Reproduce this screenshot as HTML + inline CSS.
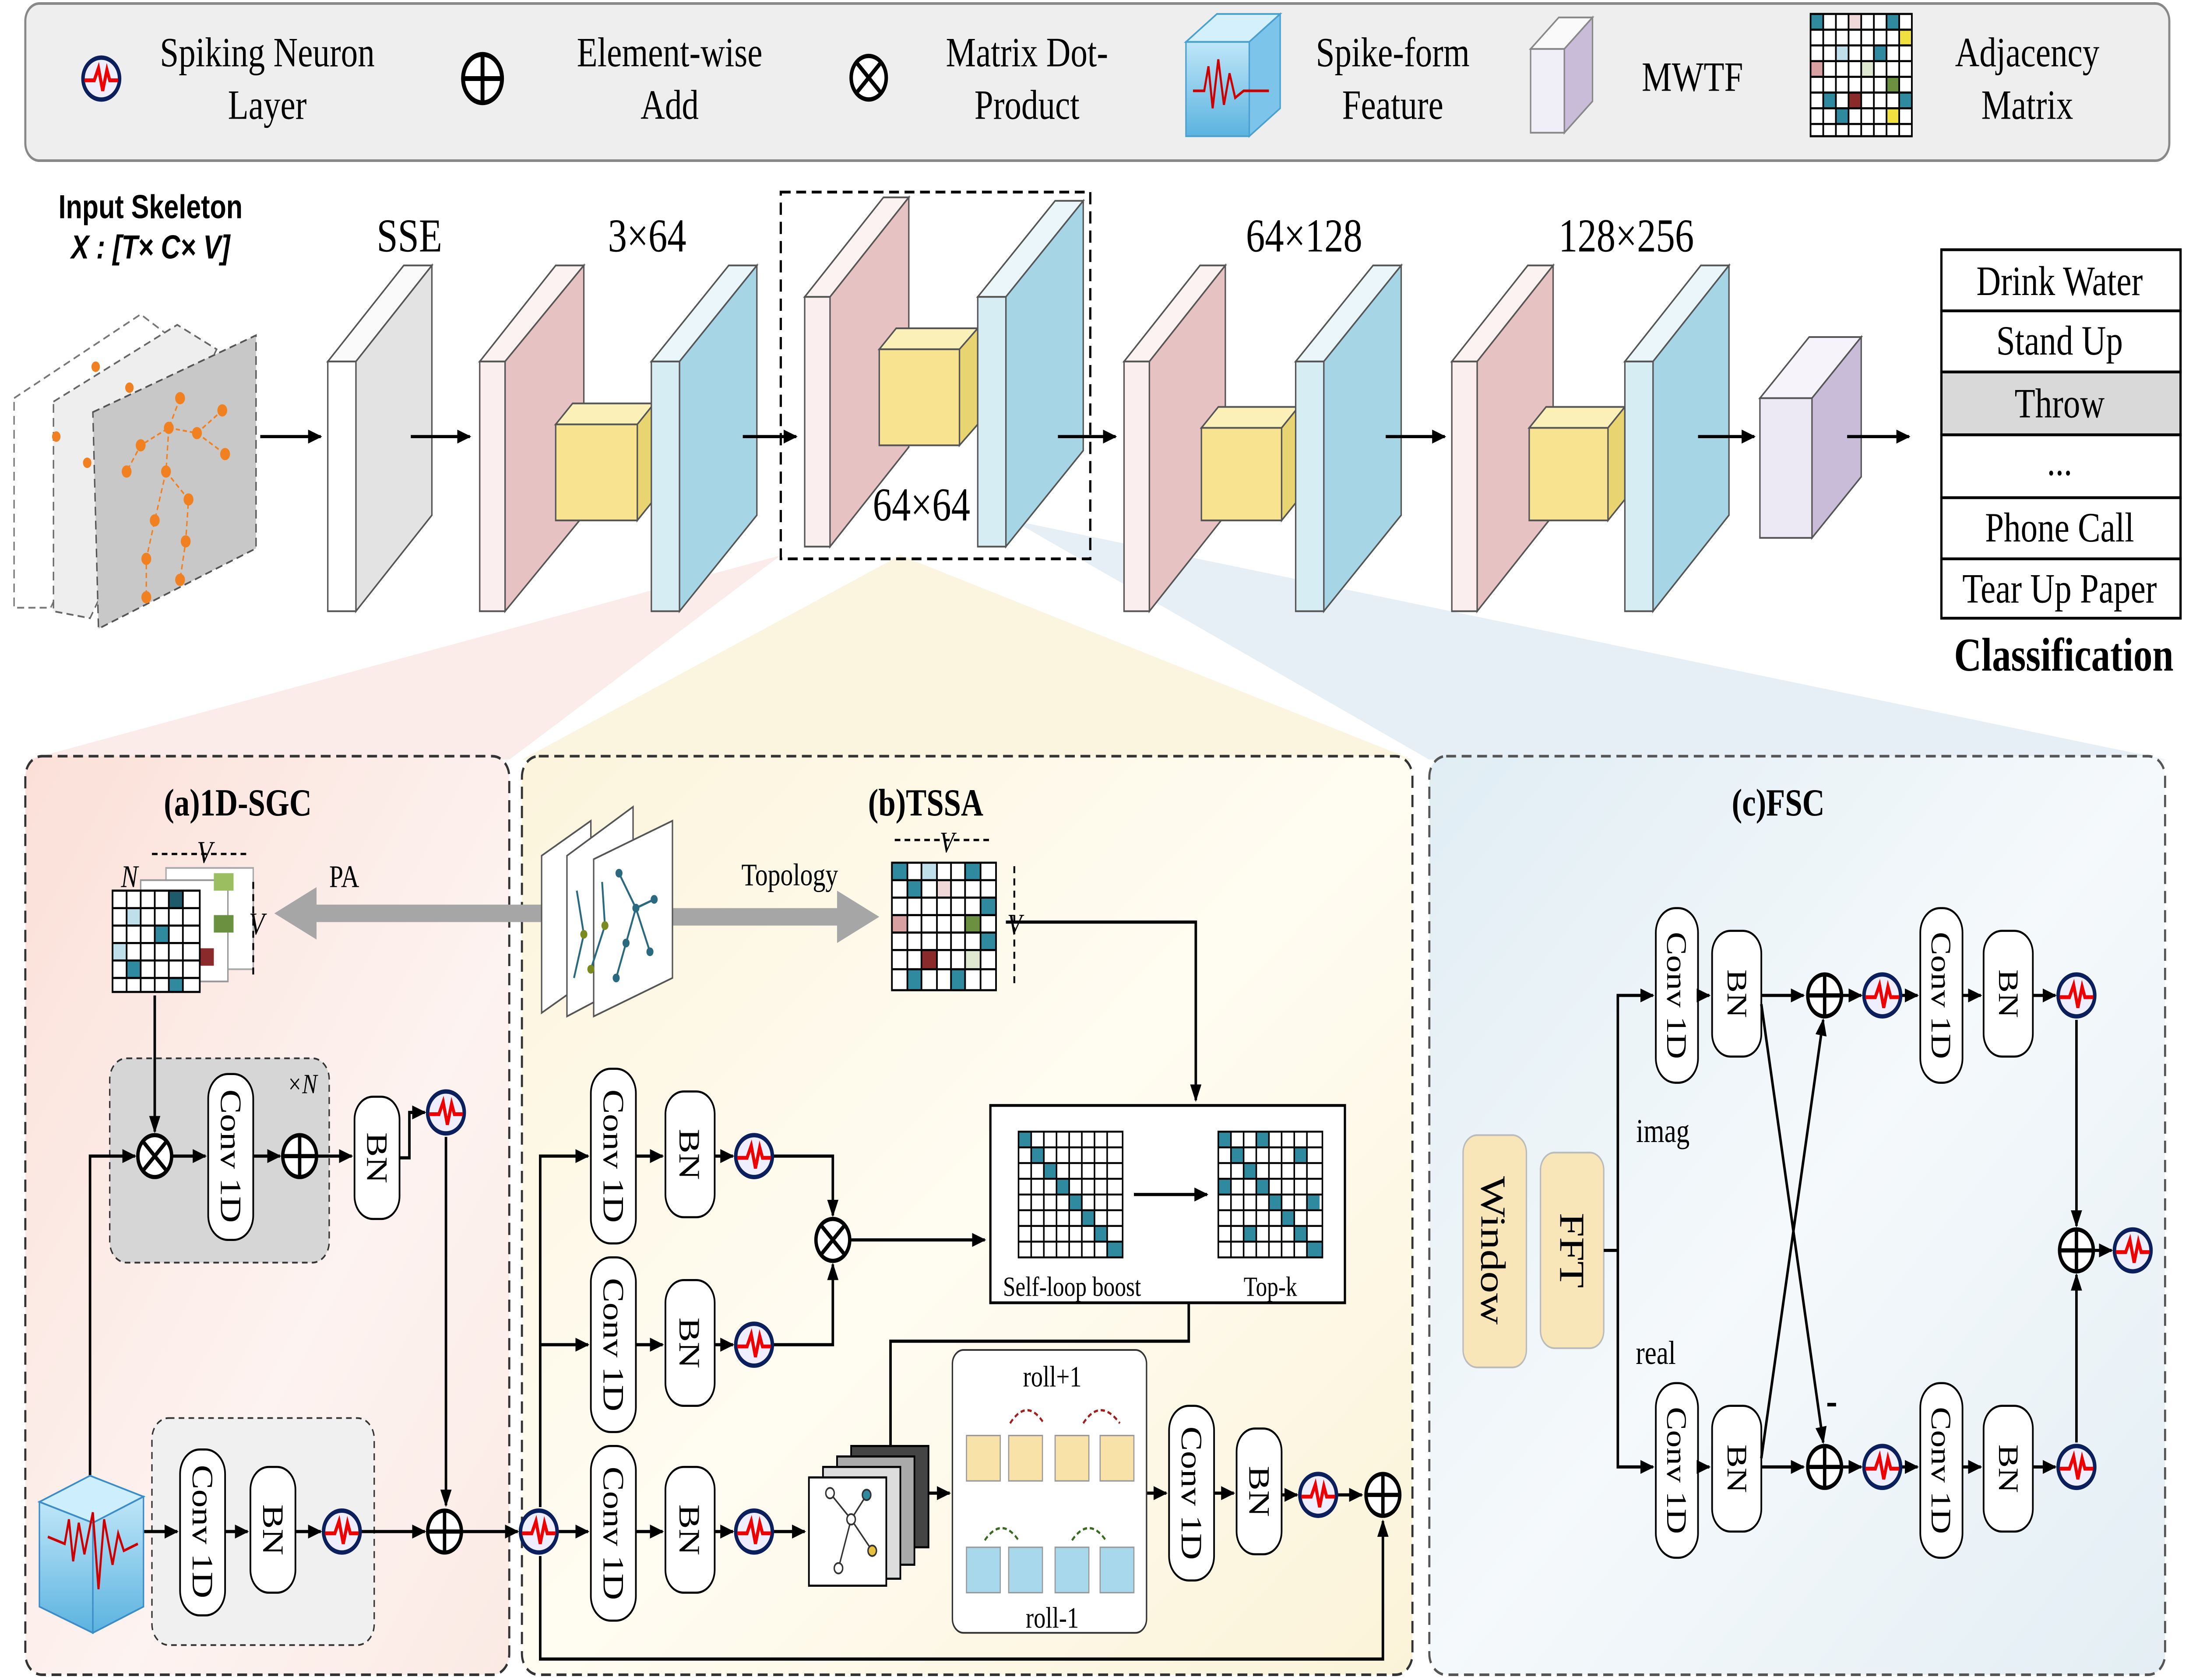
<!DOCTYPE html>
<html><head><meta charset="utf-8"><style>html,body{margin:0;padding:0;background:#fff;overflow:hidden;width:100%;height:100%}svg{display:block;position:fixed;left:0;top:0;width:100vw;height:100vh}</style></head><body>
<svg xmlns="http://www.w3.org/2000/svg" viewBox="0 0 1556 962" preserveAspectRatio="none" font-family="Liberation Serif, serif">
<defs>
<marker id="ar" markerWidth="10" markerHeight="8" refX="9" refY="4" orient="auto" markerUnits="userSpaceOnUse"><path d="M0,0 L10,4 L0,8 z" fill="#000"/></marker>
<symbol id="neu" viewBox="-14 -14 28 28" overflow="visible"><ellipse cx="0" cy="0" rx="13" ry="12" fill="#eef" stroke="#0b1f5c" stroke-width="2.5"/><path d="M-12,1 L-5,1 L-2,-6 L1,7 L4,-5 L6,1 L12,1" fill="none" stroke="#e00" stroke-width="2.2"/></symbol>
<symbol id="plus" viewBox="-13 -13 26 26" overflow="visible"><circle r="12" fill="#fff" stroke="#000" stroke-width="2.4"/><path d="M-12,0H12M0,-12V12" stroke="#000" stroke-width="2.4"/></symbol>
<symbol id="times" viewBox="-13 -13 26 26" overflow="visible"><circle r="12" fill="#fff" stroke="#000" stroke-width="2.4"/><path d="M-8.5,-8.5L8.5,8.5M8.5,-8.5L-8.5,8.5" stroke="#000" stroke-width="2.4"/></symbol>
<linearGradient id="ga" x1="0" y1="0" x2="1" y2="1"><stop offset="0" stop-color="#fbe0d8"/><stop offset="0.6" stop-color="#fdf3f0"/><stop offset="1" stop-color="#fbeae4"/></linearGradient>
<linearGradient id="gb" x1="0" y1="0" x2="1" y2="1"><stop offset="0" stop-color="#fcf4dc"/><stop offset="0.5" stop-color="#fffcf2"/><stop offset="1" stop-color="#fbf3d8"/></linearGradient>
<linearGradient id="gc" x1="0" y1="0" x2="1" y2="1"><stop offset="0" stop-color="#e0edf4"/><stop offset="0.5" stop-color="#f5f9fb"/><stop offset="1" stop-color="#e3eef4"/></linearGradient>
<linearGradient id="cube" x1="0" y1="0" x2="0" y2="1"><stop offset="0" stop-color="#bfe6f8"/><stop offset="1" stop-color="#5bb3e0"/></linearGradient>
</defs>

<rect x="18" y="2" width="1524" height="90" rx="10" fill="#eeeeee" stroke="#888" stroke-width="1.5"/>
<use href="#neu" x="58" y="31" width="28" height="28"/>
<g font-size="24" text-anchor="middle">
<text x="190" y="38">Spiking Neuron</text><text x="190" y="68">Layer</text>
<text x="476" y="38">Element-wise</text><text x="476" y="68">Add</text>
<text x="730" y="38">Matrix Dot-</text><text x="730" y="68">Product</text>
<text x="990" y="38">Spike-form</text><text x="990" y="68">Feature</text>
<text x="1203" y="52">MWTF</text>
<text x="1441" y="38">Adjacency</text><text x="1441" y="68">Matrix</text>
</g>
<use href="#plus" x="328" y="30" width="30" height="30"/>
<use href="#times" x="604" y="31" width="27" height="27"/>
<g><polygon points="843,24 865,8 910,8 888,24" fill="#d4f0fc" stroke="#4aa0d0"/><polygon points="888,24 910,8 910,62 888,78" fill="#7cc4ea" stroke="#4aa0d0"/><rect x="843" y="24" width="45" height="54" fill="url(#cube)" stroke="#4aa0d0"/><path d="M848,52 L856,52 L859,38 L862,62 L866,34 L870,60 L874,42 L878,56 L884,52 L902,52" fill="none" stroke="#c00" stroke-width="1.5"/></g>
<g><rect x="1088" y="28" width="24" height="48" fill="#f0eef6" stroke="#888"/><polygon points="1088,28 1108,10 1132,10 1112,28" fill="#fafafa" stroke="#888"/><polygon points="1112,28 1132,10 1132,58 1112,76" fill="#c8bcd8" stroke="#888"/></g>
<g><rect x="1287" y="8" width="72" height="70" fill="#fff"/>
<rect x="1287" y="8" width="9" height="9" fill="#2f8aa0"/><rect x="1314" y="8" width="9" height="9" fill="#f0d8d8"/><rect x="1341" y="8" width="9" height="9" fill="#2f8aa0"/><rect x="1350" y="17" width="9" height="9" fill="#f0e040"/><rect x="1305" y="26" width="9" height="9" fill="#bfe0ea"/><rect x="1332" y="26" width="9" height="9" fill="#2f8aa0"/><rect x="1287" y="35" width="9" height="9" fill="#d8a0a0"/><rect x="1323" y="35" width="9" height="9" fill="#dfe8d0"/><rect x="1341" y="44" width="9" height="9" fill="#6a9040"/><rect x="1296" y="53" width="9" height="9" fill="#2f8aa0"/><rect x="1314" y="53" width="9" height="9" fill="#8b2a2a"/><rect x="1350" y="53" width="9" height="9" fill="#2f8aa0"/><rect x="1305" y="62" width="9" height="9" fill="#2f8aa0"/><rect x="1341" y="62" width="9" height="9" fill="#f0e040"/>
<path d="M1287,8h72v70h-72z M1296,8v70M1305,8v70M1314,8v70M1323,8v70M1332,8v70M1341,8v70M1350,8v70M1287,17h72M1287,26h72M1287,35h72M1287,44h72M1287,53h72M1287,62h72M1287,71h72" fill="none" stroke="#000" stroke-width="1.2"/></g>

<polygon points="555,318 20,435 362,435" fill="#f6d4d0" opacity="0.45"/>
<polygon points="640,318 371,435 1004,435" fill="#f7eac0" opacity="0.5"/>
<polygon points="720,298 1016,435 1540,435" fill="#cfe2ec" opacity="0.55"/>

<text x="107" y="125" font-family="Liberation Sans, sans-serif" font-weight="bold" font-size="19" text-anchor="middle">Input Skeleton</text>
<text x="107" y="148" font-family="Liberation Sans, sans-serif" font-weight="bold" font-style="italic" font-size="19" text-anchor="middle">X : [T× C× V]</text>
<polygon points="10,228 100,180 126,196 36,348 10,348" fill="#fff" stroke="#777" stroke-dasharray="5,3"/>
<polygon points="38,230 126,186 154,200 64,354 38,350" fill="#eee" stroke="#666" stroke-dasharray="5,3"/>
<polygon points="66,236 182,192 182,314 70,360" fill="#c8c8c8" stroke="#555" stroke-dasharray="5,3"/>
<g fill="#f08020"><circle cx="128" cy="228" r="3.5"/><circle cx="120" cy="245" r="3.5"/><circle cx="100" cy="255" r="3.5"/><circle cx="90" cy="270" r="3.5"/><circle cx="140" cy="248" r="3.5"/><circle cx="158" cy="235" r="3.5"/><circle cx="160" cy="260" r="3.5"/><circle cx="118" cy="270" r="3.5"/><circle cx="110" cy="298" r="3.5"/><circle cx="104" cy="320" r="3.5"/><circle cx="134" cy="286" r="3.5"/><circle cx="132" cy="310" r="3.5"/><circle cx="128" cy="332" r="3.5"/><circle cx="104" cy="342" r="3.5"/><circle cx="68" cy="210" r="3" /><circle cx="92" cy="222" r="3"/><circle cx="40" cy="250" r="3"/><circle cx="62" cy="265" r="3"/></g>
<path d="M128,228 L120,245 L100,255 L90,270 M120,245 L140,248 L158,235 M140,248 L160,260 M120,245 L118,270 L110,298 L104,320 L104,342 M118,270 L134,286 L132,310 L128,332" fill="none" stroke="#f08020" stroke-dasharray="3,2"/>

<g stroke="#555" stroke-width="1">
<polygon points="233,207 287,152 307,152 253,207" fill="#fafafa"/><polygon points="253,207 307,152 307,295 253,350" fill="#e3e3e3"/><rect x="233" y="207" width="20" height="143" fill="#fff"/>
<polygon points="341,207 395,152 415,152 359,207" fill="#fdf2f2"/><polygon points="359,207 415,152 415,295 359,350" fill="#e6c2c2"/><rect x="341" y="207" width="18" height="143" fill="#fbeeee"/>
<polygon points="395,243 407,231 465,231 453,243" fill="#fbf0b8"/><polygon points="453,243 465,231 465,286 453,298" fill="#e8d470"/><rect x="395" y="243" width="58" height="55" fill="#f8e490"/>
<polygon points="463,207 518,152 538,152 483,207" fill="#eaf6fa"/><polygon points="483,207 538,152 538,295 483,350" fill="#a6d6e6"/><rect x="463" y="207" width="20" height="143" fill="#d7edf4"/>
<polygon points="572,170 628,113 646,113 590,170" fill="#fdf2f2"/><polygon points="590,170 646,113 646,256 590,313" fill="#e6c2c2"/><rect x="572" y="170" width="18" height="143" fill="#fbeeee"/>
<polygon points="625,200 637,188 695,188 682,200" fill="#fbf0b8"/><polygon points="682,200 695,188 695,243 682,255" fill="#e8d470"/><rect x="625" y="200" width="57" height="55" fill="#f8e490"/>
<polygon points="695,170 750,115 770,115 715,170" fill="#eaf6fa"/><polygon points="715,170 770,115 770,258 715,313" fill="#a6d6e6"/><rect x="695" y="170" width="20" height="143" fill="#d7edf4"/>
<polygon points="799,207 853,152 871,152 817,207" fill="#fdf2f2"/><polygon points="817,207 871,152 871,295 817,350" fill="#e6c2c2"/><rect x="799" y="207" width="18" height="143" fill="#fbeeee"/>
<polygon points="854,245 866,233 923,233 911,245" fill="#fbf0b8"/><polygon points="911,245 923,233 923,286 911,298" fill="#e8d470"/><rect x="854" y="245" width="57" height="53" fill="#f8e490"/>
<polygon points="921,207 976,152 996,152 941,207" fill="#eaf6fa"/><polygon points="941,207 996,152 996,295 941,350" fill="#a6d6e6"/><rect x="921" y="207" width="20" height="143" fill="#d7edf4"/>
<polygon points="1032,207 1086,152 1104,152 1050,207" fill="#fdf2f2"/><polygon points="1050,207 1104,152 1104,295 1050,350" fill="#e6c2c2"/><rect x="1032" y="207" width="18" height="143" fill="#fbeeee"/>
<polygon points="1087,245 1099,233 1155,233 1143,245" fill="#fbf0b8"/><polygon points="1143,245 1155,233 1155,286 1143,298" fill="#e8d470"/><rect x="1087" y="245" width="56" height="53" fill="#f8e490"/>
<polygon points="1155,207 1209,152 1229,152 1175,207" fill="#eaf6fa"/><polygon points="1175,207 1229,152 1229,295 1175,350" fill="#a6d6e6"/><rect x="1155" y="207" width="20" height="143" fill="#d7edf4"/>
<polygon points="1251,228 1286,193 1323,193 1288,228" fill="#f6f4fa"/><polygon points="1288,228 1323,193 1323,273 1288,308" fill="#c8bcd8"/><rect x="1251" y="228" width="37" height="80" fill="#ece8f4"/>
</g>
<rect x="555" y="110" width="220" height="210" fill="none" stroke="#000" stroke-width="1.6" stroke-dasharray="7,4"/>
<g font-size="27" text-anchor="middle"><text x="291" y="144">SSE</text><text x="460" y="144">3×64</text><text x="655" y="298">64×64</text><text x="927" y="144">64×128</text><text x="1156" y="144">128×256</text></g>
<g stroke="#000" stroke-width="1.8" marker-end="url(#ar)">
<line x1="185" y1="250" x2="228" y2="250"/><line x1="292" y1="250" x2="334" y2="250"/><line x1="528" y1="250" x2="566" y2="250"/><line x1="752" y1="250" x2="793" y2="250"/><line x1="985" y1="250" x2="1027" y2="250"/><line x1="1207" y1="250" x2="1247" y2="250"/><line x1="1313" y1="250" x2="1357" y2="250"/>
</g>
<g stroke="#000" stroke-width="1.6" font-size="24" text-anchor="middle">
<rect x="1380" y="143" width="170" height="35" fill="#fff"/><rect x="1380" y="178" width="170" height="35" fill="#fff"/><rect x="1380" y="213" width="170" height="36" fill="#d9d9d9"/><rect x="1380" y="249" width="170" height="36" fill="#fff"/><rect x="1380" y="285" width="170" height="35" fill="#fff"/><rect x="1380" y="320" width="170" height="34" fill="#fff"/>
<g stroke="none"><text x="1464" y="169">Drink Water</text><text x="1464" y="203">Stand Up</text><text x="1464" y="239">Throw</text><text x="1464" y="272">...</text><text x="1464" y="310">Phone Call</text><text x="1464" y="345">Tear Up Paper</text></g>
</g>
<text x="1467" y="384" font-size="27" font-weight="bold" text-anchor="middle">Classification</text>

<rect x="18" y="433" width="344" height="526" rx="12" fill="url(#ga)" stroke="#333" stroke-width="1.5" stroke-dasharray="7,4"/>
<rect x="371" y="433" width="633" height="526" rx="12" fill="url(#gb)" stroke="#333" stroke-width="1.5" stroke-dasharray="7,4"/>
<rect x="1016" y="433" width="523" height="526" rx="12" fill="url(#gc)" stroke="#555" stroke-width="1.5" stroke-dasharray="7,4"/>
<g font-size="22" font-weight="bold" text-anchor="middle"><text x="169" y="467">(a)1D-SGC</text><text x="658" y="467">(b)TSSA</text><text x="1264" y="467">(c)FSC</text></g>

<rect x="118" y="497" width="62" height="58" fill="#fff" stroke="#aaa"/>
<rect x="100" y="504" width="62" height="58" fill="#fff" stroke="#999"/>
<rect x="152" y="500" width="14" height="10" fill="#9bbf60"/><rect x="152" y="524" width="14" height="10" fill="#6a9040"/><rect x="138" y="543" width="14" height="10" fill="#8b2a2a"/>
<rect x="80" y="510" width="62" height="58" fill="#fff"/>
<rect x="90" y="520" width="10" height="10" fill="#bfe0ea"/><rect x="110" y="530" width="10" height="10" fill="#2f8aa0"/><rect x="120" y="510" width="10" height="10" fill="#1e5a6a"/><rect x="80" y="540" width="10" height="10" fill="#bfe0ea"/><rect x="90" y="550" width="10" height="10" fill="#2f8aa0"/><rect x="120" y="560" width="10" height="8" fill="#2f8aa0"/>
<path d="M80,510h62v58h-62z M90,510v58M100,510v58M110,510v58M120,510v58M130,510v58M80,520h62M80,530h62M80,540h62M80,550h62M80,560h62" fill="none" stroke="#000" stroke-width="1.2"/>
<text x="86" y="508" font-size="18" font-style="italic">N</text><text x="140" y="494" font-size="18" font-style="italic">V</text><text x="177" y="535" font-size="18" font-style="italic">V</text>
<path d="M108,489 H176 M180,505 V560" stroke="#000" stroke-width="1.3" stroke-dasharray="4,3"/>
<text x="234" y="508" font-size="18">PA</text>
<polygon points="195,523 225,508 225,518 395,518 395,528 225,528 225,538" fill="#a6a6a6"/>
<polygon points="625,525 595,510 595,520 470,520 470,530 595,530 595,540" fill="#a6a6a6"/>
<text x="527" y="507" font-size="18">Topology</text>
<rect x="78" y="606" width="156" height="117" rx="12" fill="#d6d6d6" stroke="#333" stroke-dasharray="4,3"/>
<rect x="108" y="812" width="158" height="130" rx="12" fill="#f0f0f0" stroke="#333" stroke-dasharray="4,3"/>
<text x="204" y="626" font-size="16" font-style="italic">×N</text>
<g fill="#fff" stroke="#000" stroke-width="1.2">
<rect x="148" y="615" width="32" height="95" rx="14"/><rect x="252" y="628" width="32" height="70" rx="13"/>
<rect x="128" y="830" width="32" height="95" rx="14"/><rect x="178" y="840" width="32" height="72" rx="13"/>
</g>
<g font-size="21" text-anchor="middle">
<text transform="translate(157,662) rotate(90)">Conv 1D</text><text transform="translate(261,663) rotate(90)">BN</text>
<text transform="translate(137,877) rotate(90)">Conv 1D</text><text transform="translate(187,876) rotate(90)">BN</text>
</g>
<g stroke="#000" stroke-width="1.8" fill="none">
<path d="M110,570 V648" marker-end="url(#ar)"/>
<path d="M64,845 V662 H96" marker-end="url(#ar)"/>
<path d="M123,662 H146" marker-end="url(#ar)"/>
<path d="M180,662 H199" marker-end="url(#ar)"/>
<path d="M226,662 H250" marker-end="url(#ar)"/>
<path d="M284,663 H291 V637 H302" marker-end="url(#ar)"/>
<path d="M317,651 V862" marker-end="url(#ar)"/>
<path d="M102,877 H126" marker-end="url(#ar)"/>
<path d="M160,877 H176" marker-end="url(#ar)"/>
<path d="M210,877 H228" marker-end="url(#ar)"/>
<path d="M257,877 H302" marker-end="url(#ar)"/>
<path d="M329,877 H368" marker-end="url(#ar)"/>
</g>
<use href="#times" x="97" y="649" width="26" height="26"/>
<use href="#plus" x="200" y="649" width="26" height="26"/>
<use href="#neu" x="303" y="623" width="28" height="28"/>
<use href="#neu" x="229" y="863" width="28" height="28"/>
<use href="#plus" x="303" y="864" width="26" height="26"/>
<g><polygon points="28,860 64,845 102,857 66,872" fill="#cdeefc" stroke="#3b8cc8"/><polygon points="28,860 66,872 66,935 28,920" fill="url(#cube)" stroke="#3b8cc8"/><polygon points="66,872 102,857 102,920 66,935" fill="url(#cube)" stroke="#3b8cc8"/><path d="M34,880 L46,884 L49,870 L52,894 L56,872 L60,890 L66,866 L70,910 L74,870 L80,896 L84,878 L88,888 L98,884" fill="none" stroke="#c00" stroke-width="1.5"/></g>

<g stroke="#555"><polygon points="385,490 420,470 420,560 385,580" fill="#fff"/><polygon points="403,490 450,462 450,562 403,582" fill="#fff"/><polygon points="422,492 478,470 478,560 422,582" fill="#fff"/></g>
<path d="M440,500 L452,520 L445,540 L438,560 M452,520 L465,515 M452,520 L462,545 M410,510 L415,535 L408,560 M428,505 L430,530 L420,555" fill="none" stroke="#2a6a80" stroke-width="1.3"/>
<g fill="#2a6a80"><circle cx="440" cy="500" r="2.5"/><circle cx="452" cy="520" r="2.5"/><circle cx="445" cy="540" r="2.5"/><circle cx="438" cy="560" r="2.5"/><circle cx="465" cy="515" r="2.5"/><circle cx="462" cy="545" r="2.5"/><circle cx="415" cy="535" r="2.5" fill="#7a8a20"/><circle cx="430" cy="530" r="2.5" fill="#7a8a20"/><circle cx="420" cy="555" r="2.5" fill="#7a8a20"/></g>
<g><rect x="634" y="494" width="74" height="73" fill="#fff"/>
<rect x="634" y="494" width="11" height="10" fill="#2f8aa0"/><rect x="655" y="494" width="11" height="10" fill="#bfe0ea"/><rect x="686" y="494" width="11" height="10" fill="#2f8aa0"/><rect x="645" y="504" width="10" height="10" fill="#2f8aa0"/><rect x="666" y="504" width="10" height="10" fill="#f0d8d8"/><rect x="697" y="514" width="11" height="10" fill="#2f8aa0"/><rect x="634" y="524" width="11" height="10" fill="#d8a0a0"/><rect x="686" y="524" width="11" height="10" fill="#6a9040"/><rect x="655" y="544" width="11" height="11" fill="#8b2a2a"/><rect x="697" y="534" width="11" height="10" fill="#2f8aa0"/><rect x="645" y="555" width="10" height="12" fill="#2f8aa0"/><rect x="676" y="555" width="10" height="12" fill="#2f8aa0"/><rect x="686" y="544" width="11" height="11" fill="#dfe8d0"/>
<path d="M634,494h74v73h-74z M645,494v73M655,494v73M666,494v73M676,494v73M686,494v73M697,494v73M634,504h74M634,514h74M634,524h74M634,534h74M634,544h74M634,555h74" fill="none" stroke="#000" stroke-width="1.2"/></g>
<text x="668" y="488" font-size="17" font-style="italic">V</text><text x="716" y="535" font-size="17" font-style="italic">V</text>
<path d="M636,481 H706 M721,496 V565" stroke="#000" stroke-width="1.3" stroke-dasharray="4,3"/>
<rect x="704" y="633" width="252" height="113" fill="#fff" stroke="#000" stroke-width="1.6"/>
<g>
<rect x="724" y="648" width="74" height="72" fill="#fff"/>
<rect x="724" y="648" width="9" height="9" fill="#2f8aa0"/><rect x="733" y="657" width="9" height="9" fill="#2f8aa0"/><rect x="742" y="666" width="9" height="9" fill="#2f8aa0"/><rect x="751" y="675" width="9" height="9" fill="#2f8aa0"/><rect x="760" y="684" width="9" height="9" fill="#2f8aa0"/><rect x="769" y="693" width="9" height="9" fill="#2f8aa0"/><rect x="778" y="702" width="9" height="9" fill="#2f8aa0"/><rect x="787" y="711" width="11" height="9" fill="#2f8aa0"/>
<path d="M724,648h74v72h-74z M733,648v72M742,648v72M751,648v72M760,648v72M769,648v72M778,648v72M787,648v72M724,657h74M724,666h74M724,675h74M724,684h74M724,693h74M724,702h74M724,711h74" fill="none" stroke="#000" stroke-width="1.1"/>
<rect x="866" y="648" width="74" height="72" fill="#fff"/>
<rect x="866" y="648" width="9" height="9" fill="#2f8aa0"/><rect x="893" y="648" width="9" height="9" fill="#2f8aa0"/><rect x="875" y="657" width="9" height="9" fill="#2f8aa0"/><rect x="920" y="657" width="9" height="9" fill="#2f8aa0"/><rect x="884" y="666" width="9" height="9" fill="#2f8aa0"/><rect x="866" y="675" width="9" height="9" fill="#2f8aa0"/><rect x="893" y="675" width="9" height="9" fill="#2f8aa0"/><rect x="902" y="684" width="9" height="9" fill="#2f8aa0"/><rect x="929" y="684" width="9" height="9" fill="#2f8aa0"/><rect x="911" y="693" width="9" height="9" fill="#2f8aa0"/><rect x="884" y="702" width="9" height="9" fill="#2f8aa0"/><rect x="920" y="702" width="9" height="9" fill="#2f8aa0"/><rect x="929" y="711" width="11" height="9" fill="#2f8aa0"/>
<path d="M866,648h74v72h-74z M875,648v72M884,648v72M893,648v72M902,648v72M911,648v72M920,648v72M929,648v72M866,657h74M866,666h74M866,675h74M866,684h74M866,693h74M866,702h74M866,711h74" fill="none" stroke="#000" stroke-width="1.1"/>
</g>
<text x="762" y="742" font-size="16" text-anchor="middle">Self-loop boost</text><text x="903" y="742" font-size="16" text-anchor="middle">Top-k</text>
<g fill="#fff" stroke="#000" stroke-width="1.2">
<rect x="420" y="612" width="32" height="100" rx="14"/><rect x="473" y="625" width="35" height="72" rx="13"/>
<rect x="420" y="720" width="32" height="100" rx="14"/><rect x="473" y="733" width="35" height="72" rx="13"/>
<rect x="420" y="828" width="32" height="100" rx="14"/><rect x="473" y="840" width="35" height="72" rx="13"/>
<rect x="831" y="805" width="32" height="100" rx="14"/><rect x="879" y="818" width="32" height="72" rx="13"/>
</g>
<g font-size="21" text-anchor="middle">
<text transform="translate(429,662) rotate(90)">Conv 1D</text><text transform="translate(483,661) rotate(90)">BN</text>
<text transform="translate(429,770) rotate(90)">Conv 1D</text><text transform="translate(483,769) rotate(90)">BN</text>
<text transform="translate(429,878) rotate(90)">Conv 1D</text><text transform="translate(483,876) rotate(90)">BN</text>
<text transform="translate(840,855) rotate(90)">Conv 1D</text><text transform="translate(888,854) rotate(90)">BN</text>
</g>
<g stroke="#000" stroke-width="1.8" fill="none">
<path d="M384,863 V662 H418" marker-end="url(#ar)"/>
<path d="M384,770 H418" marker-end="url(#ar)"/>
<path d="M397,877 H418" marker-end="url(#ar)"/>
<path d="M452,662 H471" marker-end="url(#ar)"/><path d="M452,770 H471" marker-end="url(#ar)"/><path d="M452,877 H471" marker-end="url(#ar)"/>
<path d="M508,662 H521" marker-end="url(#ar)"/><path d="M508,770 H521" marker-end="url(#ar)"/><path d="M508,877 H521" marker-end="url(#ar)"/>
<path d="M550,662 H592 V696" marker-end="url(#ar)"/>
<path d="M550,770 H592 V724" marker-end="url(#ar)"/>
<path d="M605,710 H700" marker-end="url(#ar)"/>
<path d="M715,528 H850 V630" marker-end="url(#ar)"/>
<path d="M806,684 H858" marker-end="url(#ar)"/>
<path d="M845,746 V768 H633 V838" marker-end="url(#ar)"/>
<path d="M550,877 H572" marker-end="url(#ar)"/>
<path d="M660,855 H675" marker-end="url(#ar)"/>
<path d="M815,855 H829" marker-end="url(#ar)"/>
<path d="M863,855 H877" marker-end="url(#ar)"/>
<path d="M911,856 H922" marker-end="url(#ar)"/>
<path d="M951,856 H968" marker-end="url(#ar)"/>
<path d="M384,891 V950 H983 V871" marker-end="url(#ar)"/>
</g>
<use href="#neu" x="522" y="648" width="28" height="28"/><use href="#neu" x="522" y="756" width="28" height="28"/><use href="#neu" x="522" y="863" width="28" height="28"/>
<use href="#neu" x="369" y="863" width="28" height="28"/>
<use href="#times" x="579" y="697" width="26" height="26"/>
<use href="#neu" x="923" y="842" width="28" height="28"/>
<use href="#plus" x="970" y="843" width="26" height="26"/>
<g stroke="#000" stroke-width="1.2"><rect x="605" y="828" width="55" height="58" fill="#444"/><rect x="595" y="834" width="55" height="62" fill="#aaa"/><rect x="585" y="840" width="55" height="64" fill="#ddd"/><rect x="575" y="846" width="55" height="62" fill="#fff"/></g>
<path d="M590,855 L605,870 L596,898 M605,870 L620,888 M605,870 L616,856" fill="none" stroke="#333"/>
<g fill="#fff" stroke="#333"><circle cx="590" cy="855" r="3"/><circle cx="605" cy="870" r="3"/><circle cx="596" cy="898" r="3"/><circle cx="620" cy="888" r="3" fill="#e8c040"/><circle cx="616" cy="856" r="3" fill="#2f8aa0"/></g>
<rect x="677" y="773" width="138" height="162" rx="8" fill="#fff" stroke="#333"/>
<text x="748" y="794" font-size="17" text-anchor="middle">roll+1</text><text x="748" y="932" font-size="17" text-anchor="middle">roll-1</text>
<g stroke="#999" stroke-width="0.8">
<rect x="687" y="822" width="24" height="26" fill="#f8e2a8"/><rect x="717" y="822" width="24" height="26" fill="#f8e2a8"/><rect x="750" y="822" width="24" height="26" fill="#f8e2a8"/><rect x="782" y="822" width="24" height="26" fill="#f8e2a8"/>
<rect x="687" y="886" width="24" height="26" fill="#a8d8ec"/><rect x="717" y="886" width="24" height="26" fill="#a8d8ec"/><rect x="750" y="886" width="24" height="26" fill="#a8d8ec"/><rect x="782" y="886" width="24" height="26" fill="#a8d8ec"/>
</g>
<path d="M718,815 Q730,800 742,815 M770,815 Q782,800 796,815" fill="none" stroke="#a02020" stroke-dasharray="3,2" stroke-width="1.3"/>
<path d="M700,882 Q712,868 724,882 M762,882 Q774,868 786,882" fill="none" stroke="#3a6a20" stroke-dasharray="3,2" stroke-width="1.3"/>

<rect x="1040" y="650" width="45" height="133" rx="10" fill="#f8e6b8" stroke="#bbb"/>
<rect x="1095" y="660" width="45" height="112" rx="10" fill="#f8e6b8" stroke="#bbb"/>
<text transform="translate(1053,716) rotate(90)" font-size="25" text-anchor="middle">Window</text>
<text transform="translate(1109,716) rotate(90)" font-size="25" text-anchor="middle">FFT</text>
<text x="1182" y="654" font-size="19" text-anchor="middle">imag</text><text x="1177" y="781" font-size="19" text-anchor="middle">real</text>
<g fill="#fff" stroke="#000" stroke-width="1.2">
<rect x="1177" y="520" width="30" height="100" rx="14"/><rect x="1217" y="533" width="35" height="72" rx="13"/>
<rect x="1365" y="520" width="30" height="100" rx="14"/><rect x="1410" y="533" width="35" height="72" rx="13"/>
<rect x="1177" y="792" width="30" height="100" rx="14"/><rect x="1217" y="805" width="35" height="72" rx="13"/>
<rect x="1365" y="792" width="30" height="100" rx="14"/><rect x="1410" y="805" width="35" height="72" rx="13"/>
</g>
<g font-size="20" text-anchor="middle">
<text transform="translate(1185,570) rotate(90)">Conv 1D</text><text transform="translate(1228,569) rotate(90)">BN</text>
<text transform="translate(1373,570) rotate(90)">Conv 1D</text><text transform="translate(1421,569) rotate(90)">BN</text>
<text transform="translate(1185,842) rotate(90)">Conv 1D</text><text transform="translate(1228,841) rotate(90)">BN</text>
<text transform="translate(1373,842) rotate(90)">Conv 1D</text><text transform="translate(1421,841) rotate(90)">BN</text>
</g>
<text x="1302" y="810" font-size="24" font-weight="bold" text-anchor="middle">-</text>
<g stroke="#000" stroke-width="1.8" fill="none">
<path d="M1140,716 H1150"/>
<path d="M1150,716 V570 H1175" marker-end="url(#ar)"/>
<path d="M1150,716 V840 H1175" marker-end="url(#ar)"/>
<path d="M1207,570 H1215" marker-end="url(#ar)"/><path d="M1207,840 H1215" marker-end="url(#ar)"/>
<path d="M1252,570 H1282" marker-end="url(#ar)"/><path d="M1252,840 H1282" marker-end="url(#ar)"/>
<path d="M1252,575 L1296,826" marker-end="url(#ar)"/>
<path d="M1252,835 L1296,584" marker-end="url(#ar)"/>
<path d="M1310,570 H1323" marker-end="url(#ar)"/><path d="M1310,840 H1323" marker-end="url(#ar)"/>
<path d="M1352,570 H1363" marker-end="url(#ar)"/><path d="M1352,840 H1363" marker-end="url(#ar)"/>
<path d="M1395,570 H1408" marker-end="url(#ar)"/><path d="M1395,840 H1408" marker-end="url(#ar)"/>
<path d="M1445,570 H1461" marker-end="url(#ar)"/><path d="M1445,840 H1461" marker-end="url(#ar)"/>
<path d="M1476,584 V702" marker-end="url(#ar)"/>
<path d="M1476,826 V730" marker-end="url(#ar)"/>
<path d="M1489,716 H1501" marker-end="url(#ar)"/>
</g>
<use href="#plus" x="1284" y="557" width="26" height="26"/><use href="#plus" x="1284" y="827" width="26" height="26"/>
<use href="#neu" x="1324" y="556" width="28" height="28"/><use href="#neu" x="1324" y="826" width="28" height="28"/>
<use href="#neu" x="1462" y="556" width="28" height="28"/><use href="#neu" x="1462" y="826" width="28" height="28"/>
<use href="#plus" x="1463" y="703" width="26" height="26"/>
<use href="#neu" x="1502" y="702" width="28" height="28"/>
</svg>
</body></html>
